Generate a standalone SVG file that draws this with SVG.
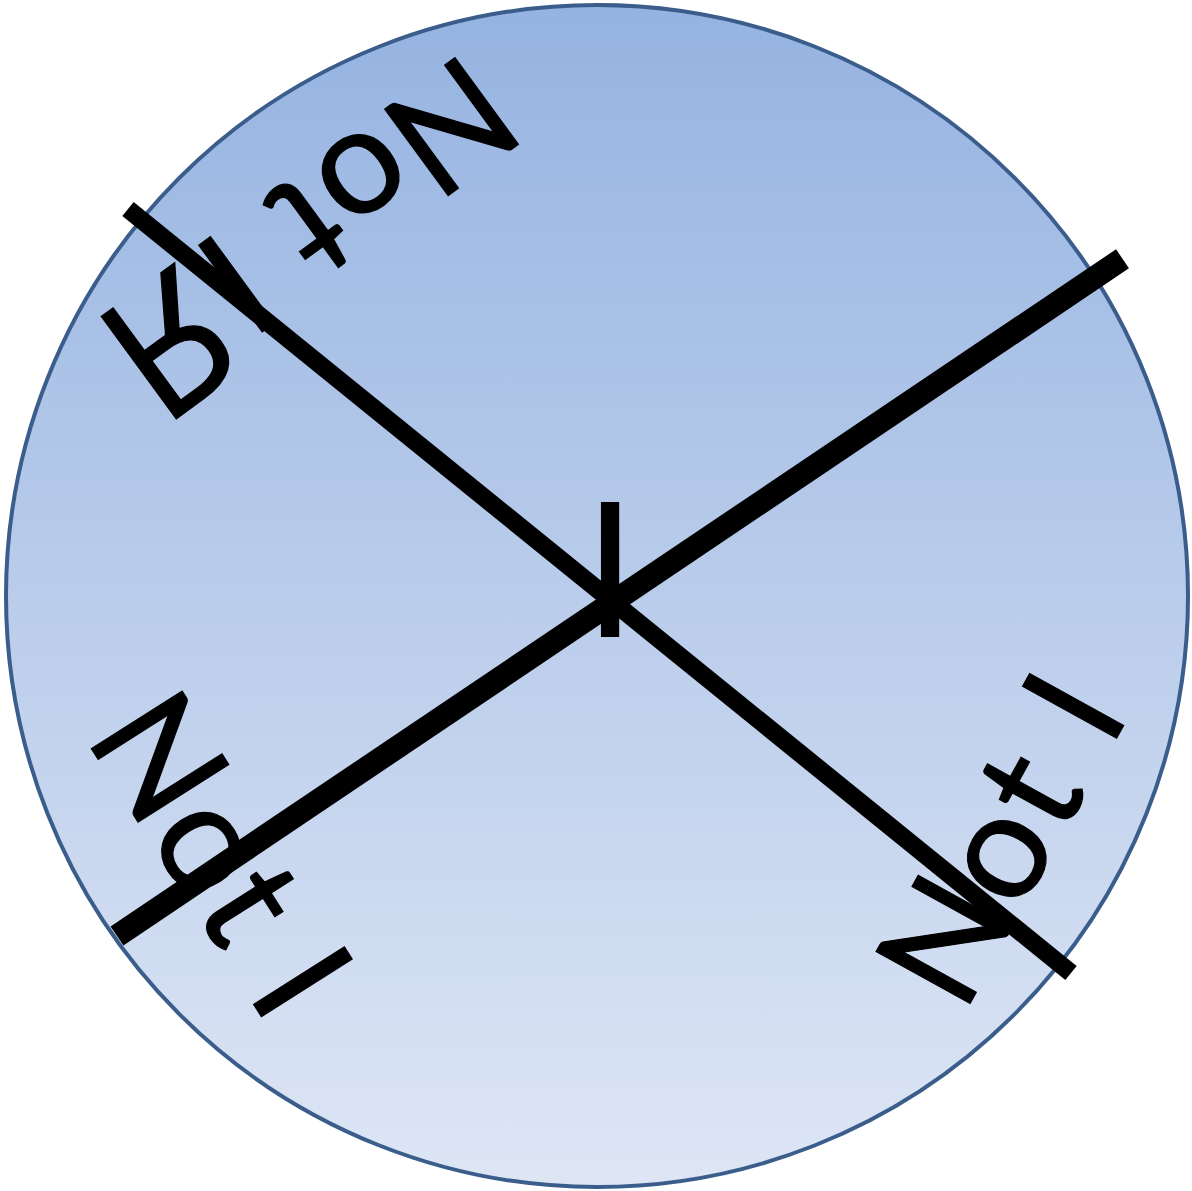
<svg xmlns="http://www.w3.org/2000/svg" width="1192" height="1191" viewBox="0 0 1192 1191">
  <defs>
    <linearGradient id="fill" x1="0" y1="0" x2="0" y2="1">
      <stop offset="0" stop-color="#95b3e1"/>
      <stop offset="1" stop-color="#dee6f5"/>
    </linearGradient>
    <style>
      .lbl { font-family: Lato, "Open Sans", "Noto Sans", sans-serif; font-size: 150px; fill: #000; stroke: #000; stroke-width: 1.2px; }
      .cyr { font-family: "Open Sans", "Noto Sans", sans-serif; font-size: 178px; fill: #000; stroke: #000; stroke-width: 1.2px; }
      .ctr { font-family: Lato, "Open Sans", "Noto Sans", sans-serif; font-size: 188px; fill: #000; }
      .ln { stroke: #000; stroke-linecap: butt; fill: none; }
    </style>
  </defs>
  <rect width="1192" height="1191" fill="#ffffff"/>
  <g id="circle">
    <circle cx="597" cy="596" r="591" fill="url(#fill)" stroke="#3a5d8c" stroke-width="4"/>
  </g>
  <g id="label-top-left" transform="translate(466,49.5) rotate(143.8)">
    <text class="lbl" textLength="345" lengthAdjust="spacing">Not I</text>
    <text class="cyr" x="357" y="0">Я</text>
  </g>
  <g id="label-bottom-left">
    <text class="lbl" transform="translate(84,737) rotate(57.6)" textLength="345" lengthAdjust="spacing">Not I</text>
  </g>
  <g id="label-bottom-right">
    <text class="lbl" transform="translate(963.5,1015.5) rotate(-61.1)" textLength="345" lengthAdjust="spacing">Not I</text>
  </g>
  <g id="connectors">
    <line class="ln" x1="128" y1="209" x2="1071" y2="973" stroke-width="18"/>
    <line class="ln" x1="117" y1="936" x2="1122.5" y2="258.8" stroke-width="23"/>
  </g>
  <g id="center-label">
    <text class="ctr" x="610" y="637" text-anchor="middle">I</text>
  </g>
</svg>
